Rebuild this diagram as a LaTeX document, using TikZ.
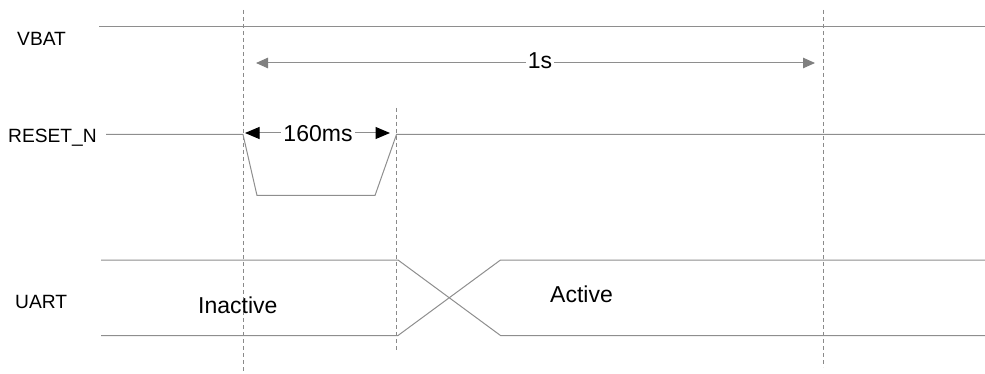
\documentclass[tikz,border=0pt]{standalone}
\usepackage{fontspec}
\setmainfont{Liberation Sans}
\usetikzlibrary{arrows.meta}
\definecolor{sigcol}{HTML}{8E8E8E}
\definecolor{dashcol}{HTML}{8A8A8A}
\definecolor{arrgray}{HTML}{808080}
\begin{document}
\begin{tikzpicture}[x=1pt,y=-1pt,
  sig/.style={draw=sigcol, line width=1pt, line join=miter},
  guide/.style={draw=dashcol, line width=0.9pt, dash pattern=on 4pt off 3pt},
  siglabel/.style={font=\fontsize{19.2}{21}\selectfont, inner sep=0pt, anchor=base west},
  statelabel/.style={font=\fontsize{23}{25}\selectfont, inner sep=0pt, anchor=base west},
  dimlabel/.style={font=\fontsize{23}{25}\selectfont, inner xsep=2pt, inner ysep=0pt, fill=white, anchor=base},
  longarrow/.style={draw=sigcol, line width=1pt, {Triangle[length=12pt,width=10.5pt,color=arrgray]}-{Triangle[length=12pt,width=10.5pt,color=arrgray]}},
  shortarrow/.style={draw=sigcol, line width=1pt, {Triangle[length=14.5pt,width=12pt,color=black]}-{Triangle[length=14.5pt,width=12pt,color=black]}}
]
\useasboundingbox (0,0) rectangle (985,374);

% guide lines
\coordinate (g1t) at (243,10);  \coordinate (g1b) at (243,374);
\coordinate (g2t) at (396.5,108); \coordinate (g2b) at (396.5,350);
\coordinate (g3t) at (823,10);  \coordinate (g3b) at (823,367);
\draw[guide] (g1t) -- (g1b);
\draw[guide] (g2t) -- (g2b);
\draw[guide] (g3t) -- (g3b);

% signal labels
\node[siglabel] (vbat) at (17,46) {VBAT};
\node[siglabel] (reset) at (8,143) {RESET\_N};
\node[siglabel] (uart) at (15,308) {UART};

% VBAT
\coordinate (v0) at (99,27); \coordinate (v1) at (985,27);
\draw[sig] (v0) -- (v1);

% RESET_N
\coordinate (r0) at (106,134.5);
\coordinate (r1) at (243,134.5);
\coordinate (r2) at (257,195.5);
\coordinate (r3) at (375,195.5);
\coordinate (r4) at (396.5,134.5);
\coordinate (r5) at (985,134.5);
\draw[sig] (r0) -- (r1) -- (r2) -- (r3) -- (r4) -- (r5);

% UART
\coordinate (u0t) at (101,260);   \coordinate (u0b) at (101,335.5);
\coordinate (u1t) at (398,260);   \coordinate (u1b) at (398,335.5);
\coordinate (u2t) at (500.5,260); \coordinate (u2b) at (500.5,335.5);
\coordinate (u3t) at (985,260);   \coordinate (u3b) at (985,335.5);
\draw[sig] (u0t) -- (u1t) -- (u2b) -- (u3b);
\draw[sig] (u0b) -- (u1b) -- (u2t) -- (u3t);
\node[statelabel] (inactive) at (198,313) {Inactive};
\node[statelabel] (active) at (550,302) {Active};

% 1s dimension
\coordinate (a1l) at (256,63); \coordinate (a1r) at (815,63);
\draw[longarrow] (a1l) -- (a1r);
\node[dimlabel] (onesec) at (540,69) {1s};

% 160ms dimension
\coordinate (a2l) at (245,133); \coordinate (a2r) at (390,133);
\draw[shortarrow] (a2l) -- (a2r);
\node[dimlabel] (ms160) at (318,141.5) {160ms};
\end{tikzpicture}
\end{document}
